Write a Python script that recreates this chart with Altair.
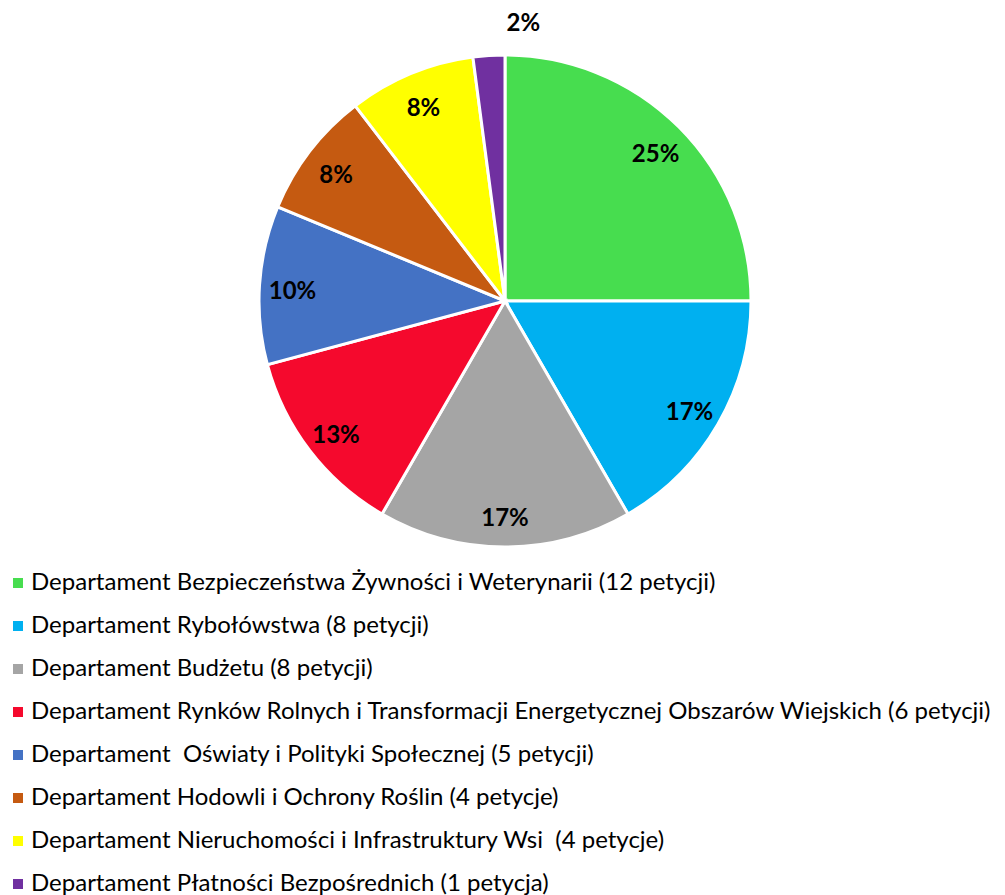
import altair as alt
import pandas as pd

departments = [
    "Departament Bezpieczeństwa Żywności i Weterynarii (12 petycji)",
    "Departament Rybołówstwa (8 petycji)",
    "Departament Budżetu (8 petycji)",
    "Departament Rynków Rolnych i Transformacji Energetycznej Obszarów Wiejskich (6 petycji)",
    "Departament\u00a0 Oświaty i Polityki Społecznej (5 petycji)",
    "Departament Hodowli i Ochrony Roślin (4 petycje)",
    "Departament Nieruchomości i Infrastruktury Wsi\u00a0 (4 petycje)",
    "Departament Płatności Bezpośrednich (1 petycja)",
]
counts = [12, 8, 8, 6, 5, 4, 4, 1]
pct_labels = ["25%", "17%", "17%", "13%", "10%", "8%", "8%", "2%"]
colors = ["#47DD4F", "#00B0F0", "#A5A5A5", "#F5092D", "#4472C4", "#C55A11", "#FFFF00", "#7030A0"]

df = pd.DataFrame({
    "dept": departments,
    "count": counts,
    "pct": pct_labels,
    "idx": list(range(len(counts))),
})

CX, CY = 497, 293

base = alt.Chart(df).encode(
    theta=alt.Theta("count:Q", stack=True),
    order=alt.Order("idx:Q"),
)

arc = base.mark_arc(radius=246, stroke="white", strokeWidth=3).encode(
    x=alt.value(CX),
    y=alt.value(CY),
    color=alt.Color(
        "dept:N",
        scale=alt.Scale(domain=departments, range=colors),
        legend=alt.Legend(
            title=None,
            orient="none",
            legendX=-2,
            legendY=563,
            symbolType="square",
            symbolSize=100,
            symbolStrokeWidth=0,
            labelFont="Lato",
            labelFontSize=24,
            labelColor="#000000",
            labelLimit=1200,
            labelOffset=1,
            rowPadding=19,
            direction="vertical",
        ),
    ),
)

text_in = base.transform_filter("datum.count >= 2").mark_text(
    radius=213, font="Lato", fontSize=24, fontWeight="bold", color="#000000"
).encode(x=alt.value(CX), y=alt.value(CY + 5), text="pct:N")

text_out = base.transform_filter("datum.count < 2").mark_text(
    radius=280, font="Lato", fontSize=24, fontWeight="bold", color="#000000"
).encode(x=alt.value(CX), y=alt.value(CY + 2), text="pct:N")

chart = alt.layer(arc, text_in, text_out).properties(
    width=989,
    height=887,
    padding=0,
    autosize=alt.AutoSizeParams(type="none"),
).configure_view(stroke=None)

chart.save("out.html", embed_options={"renderer": "svg", "actions": False})
